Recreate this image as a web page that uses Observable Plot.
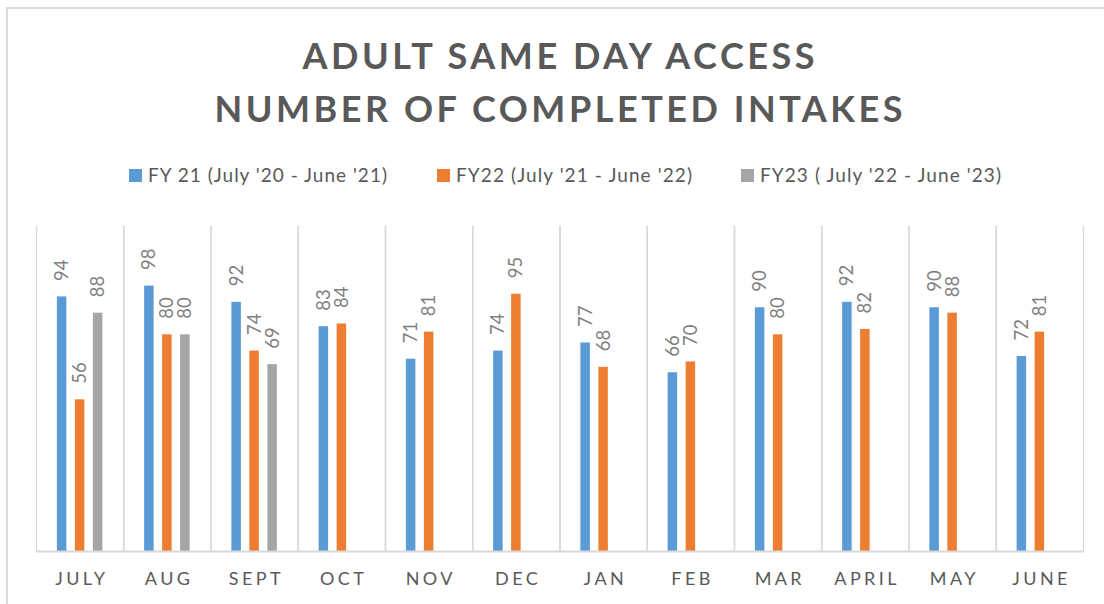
<!DOCTYPE html>
<html><head><meta charset="utf-8">
<script src="https://cdn.jsdelivr.net/npm/d3@7"></script>
<script src="https://cdn.jsdelivr.net/npm/@observablehq/plot@0.6"></script>
<style>
html,body{margin:0;padding:0;background:#fff;}
#wrap{position:relative;width:1104px;height:604px;overflow:hidden;font-family:Lato,"Noto Sans",sans-serif;}
#border{position:absolute;left:6px;top:7px;width:1200px;height:700px;border-top:2px solid #d9d9d9;border-left:2px solid #d9d9d9;}
#head{position:absolute;left:0;top:0;}
#chart{position:absolute;left:0;top:200px;}
#chart g[aria-label="fx-axis tick label"] text{letter-spacing:3.4px;}
</style></head><body>
<div id="wrap"><div id="border"></div><svg id="head" width="1104" height="200"></svg><div id="chart"></div></div>
<script>
const months = ["JULY","AUG","SEPT","OCT","NOV","DEC","JAN","FEB","MAR","APRIL","MAY","JUNE"];
const seriesNames = ["FY 21 (July '20 - June '21)", "FY22 (July '21 - June '22)", "FY23 ( July '22 - June '23)"];
const fy21 = [94, 98, 92, 83, 71, 74, 77, 66, 90, 92, 90, 72];
const fy22 = [56, 80, 74, 84, 81, 95, 68, 70, 80, 82, 88, 81];
const fy23 = [88, 80, 69, null, null, null, null, null, null, null, null, null];
const colors = ["#5b9bd5", "#ed7d31", "#a5a5a5"];
const titleLines = ["ADULT SAME DAY ACCESS", "NUMBER OF COMPLETED INTAKES"];

const seriesValues = [fy21, fy22, fy23];
const rows = [];
months.forEach((m, i) => {
  seriesValues.forEach((vals, s) => {
    if (vals[i] != null) rows.push({month: m, series: seriesNames[s], value: vals[i]});
  });
});

// Header: title and legend
const head = d3.select("#head");
const titleLayout = [{y: 69, w: 512}, {y: 122, w: 688}];
titleLines.forEach((t, i) => {
  head.append("text")
    .attr("x", 558.5).attr("y", titleLayout[i].y)
    .attr("text-anchor", "middle")
    .attr("font-family", "Lato, 'Noto Sans', sans-serif")
    .attr("font-weight", 700).attr("font-size", 36)
    .attr("fill", "#595959")
    .attr("textLength", titleLayout[i].w).attr("lengthAdjust", "spacing")
    .text(t);
});
const legendLayout = [{sx: 129, tx: 148, w: 239}, {sx: 437, tx: 456, w: 236}, {sx: 741, tx: 760, w: 241}];
seriesNames.forEach((s, i) => {
  head.append("rect").attr("x", legendLayout[i].sx).attr("y", 169)
    .attr("width", 13).attr("height", 13).attr("fill", colors[i]);
  head.append("text")
    .attr("x", legendLayout[i].tx).attr("y", 182)
    .attr("font-family", "Lato, 'Noto Sans', sans-serif")
    .attr("font-size", 19).attr("fill", "#595959")
    .attr("textLength", legendLayout[i].w).attr("lengthAdjust", "spacing")
    .text(s);
});

const chart = Plot.plot({
  width: 1104, height: 404,
  marginTop: 26, marginBottom: 53, marginLeft: 36, marginRight: 21,
  fx: {domain: months, padding: 0, round: false, label: null},
  x: {domain: seriesNames, paddingInner: 0.472, paddingOuter: 1.16, round: false, axis: null},
  y: {domain: [0, 120], axis: null},
  color: {domain: seriesNames, range: colors},
  style: {fontFamily: "Lato, 'Noto Sans', sans-serif", fontSize: "18px", color: "#595959", background: "transparent", overflow: "visible"},
  marks: [
    Plot.frame({anchor: "left", stroke: "#d9d9d9", strokeWidth: 1.4}),
    Plot.frame({anchor: "right", stroke: "#d9d9d9", strokeWidth: 1.4}),
    Plot.barY(rows, {fx: "month", x: "series", y: "value", fill: "series"}),
    Plot.ruleY([0], {stroke: "#d9d9d9", strokeWidth: 2}),
    Plot.text(rows, {fx: "month", x: "series", y: "value", text: d => String(d.value), rotate: -90, textAnchor: "start", dy: -16, fill: "#7f7f7f", fontSize: 18.5}),
    Plot.axisFx({anchor: "bottom", tickSize: 0, tickPadding: 21, fontSize: 18, fill: "#595959", dx: 1.7, label: null})
  ]
});
document.getElementById("chart").append(chart);
</script>
</body></html>
